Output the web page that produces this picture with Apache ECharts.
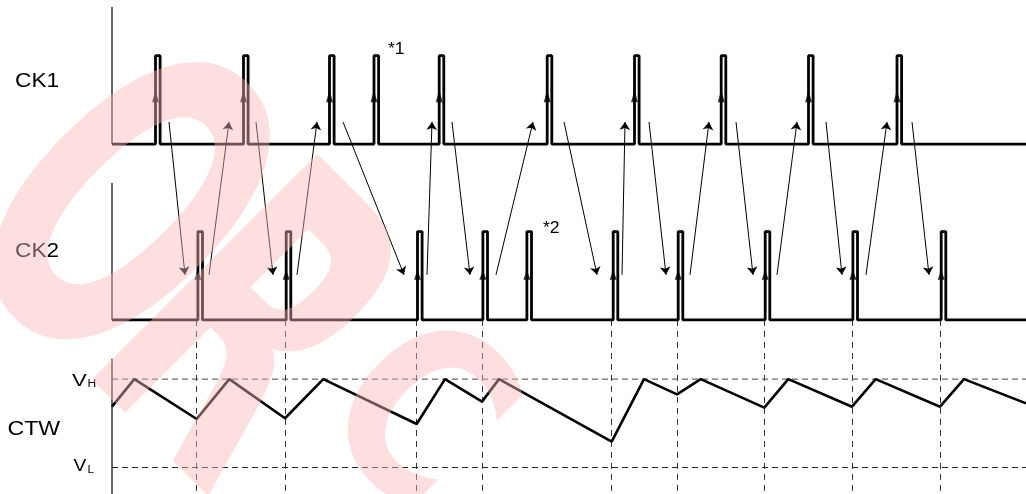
<!DOCTYPE html>
<html>
<head>
<meta charset="utf-8">
<script src="https://cdn.jsdelivr.net/npm/echarts@6/dist/echarts.min.js"></script>
<style>
html,body{margin:0;padding:0;background:#fff;}
#chart{width:1026px;height:494px;}
</style>
</head>
<body>
<div id="chart"></div>
<script>
// ---------- data (time units along the common time axis, levels in signal units) ----------
const timeEnd = 914;
const ck1Rise = [43.5, 131.5, 217.5, 262, 327.2, 435.2, 522.5, 609.2, 696.5, 785];
const ck2Rise = [85.9, 174.2, 305.5, 370.9, 414.9, 501.2, 566.2, 653.2, 740.9, 829.2];
const pulseWidth = 4.6;
const ctwTime  = [0, 22.3, 84.7, 117.3, 173, 211.3, 304.7, 333, 370, 387, 499.7, 532, 565, 588.7, 652.3, 676.3, 740, 763.7, 828, 852, 914];
const ctwLevel = [0.688, 1, 0.549, 1, 0.557, 1, 0.492, 1, 0.745, 1, 0.292, 1, 0.828, 1, 0.677, 1, 0.688, 1, 0.688, 1, 0.726];
const resetTimes = [84.7, 173, 304.7, 370, 499.7, 565, 652.3, 740, 828];
const ck1ToCk2From = [57, 144, 231, 340, 452, 537, 624, 714, 800];
const ck1ToCk2To   = [73, 161, 292, 358, 485, 554, 641, 730, 817];
const ck2ToCk1From = [97, 185, 315, 384, 510, 578, 665, 754];
const ck2ToCk1To   = [117, 205, 320, 421, 513, 597, 685, 775];
const arrowLevelCk1 = 0.25;   // level on CK1 lane where trigger arrows start / end
const arrowLevelCk2 = 0.51;   // level on CK2 lane where trigger arrows start / end
const edgeArrowLevelCk1 = 0.54;
const edgeArrowLevelCk2 = 0.51;
const VH = 1, VL = 0;

// ---------- layout ----------
const lane = {ck1: 3.66, ck2: 1.67, ctw: 0};
const axisTop = {ck1: 1.55, ck2: 1.55, ctw: 1.23};
const FONT = '"Liberation Sans", Arial, Helvetica, sans-serif';

function pulseTrain(rises, base) {
  const d = [[0, base]];
  rises.forEach(r => {
    d.push([r, base], [r, base + 1], [r + pulseWidth, base + 1], [r + pulseWidth, base]);
  });
  d.push([timeEnd, base]);
  return d;
}

const ctwData = ctwTime.map((t, i) => [t, lane.ctw + ctwLevel[i]]);

const trigLines = [];
ck1ToCk2From.forEach((t, i) => trigLines.push({coords: [[t, lane.ck1 + arrowLevelCk1], [ck1ToCk2To[i], lane.ck2 + arrowLevelCk2]]}));
ck2ToCk1From.forEach((t, i) => trigLines.push({coords: [[t, lane.ck2 + arrowLevelCk2], [ck2ToCk1To[i], lane.ck1 + arrowLevelCk1]]}));

const resetLines = resetTimes.map(t => ({coords: [[t, lane.ck2], [t, -0.3]]}));

const blackLine = (w) => ({color: '#000', width: w});

const series = [
  {type: 'line', data: [[0, lane.ck1], [0, lane.ck1 + axisTop.ck1]], symbol: 'none', lineStyle: blackLine(1.2), clip: false, silent: true},
  {type: 'line', data: [[0, lane.ck2], [0, lane.ck2 + axisTop.ck2]], symbol: 'none', lineStyle: blackLine(1.2), clip: false, silent: true},
  {type: 'line', data: [[0, -0.3], [0, lane.ctw + axisTop.ctw]], symbol: 'none', lineStyle: blackLine(1.2), clip: false, silent: true},
  {type: 'line', data: [[0, lane.ctw + VH], [timeEnd, lane.ctw + VH]], symbol: 'none', lineStyle: {color: '#444', width: 1, type: [6, 4]}, clip: false},
  {type: 'line', data: [[0, lane.ctw + VL], [timeEnd, lane.ctw + VL]], symbol: 'none', lineStyle: {color: '#222', width: 1, type: [6, 4]}, clip: false},
  {type: 'lines', coordinateSystem: 'cartesian2d', data: resetLines, symbol: 'none', lineStyle: {color: '#333', width: 1, type: [6, 5], opacity: 1}},
  {type: 'line', data: pulseTrain(ck1Rise, lane.ck1), symbol: 'none', lineStyle: blackLine(2.8), clip: false},
  {type: 'line', data: pulseTrain(ck2Rise, lane.ck2), symbol: 'none', lineStyle: blackLine(2.8), clip: false},
  {type: 'line', data: ctwData, symbol: 'none', lineStyle: blackLine(2.6), clip: false},
  {type: 'lines', coordinateSystem: 'cartesian2d', data: trigLines, symbol: ['none', 'arrow'], symbolSize: 8,
   lineStyle: {color: '#000', width: 1, opacity: 1}},
  {type: 'scatter', data: ck1Rise.map(r => [r, lane.ck1 + edgeArrowLevelCk1]), symbol: 'triangle', symbolSize: [7, 12],
   itemStyle: {color: '#000'}, clip: false},
  {type: 'scatter', data: ck2Rise.map(r => [r, lane.ck2 + edgeArrowLevelCk2]), symbol: 'triangle', symbolSize: [7, 10],
   itemStyle: {color: '#000'}, clip: false}
];

function txt(text, x, y, size, sx) {
  return {type: 'text', x: x, y: y, scaleX: sx || 1, silent: true, z: 100,
    style: {text: text, font: size + 'px ' + FONT, fill: '#000', textAlign: 'left', textVerticalAlign: 'middle'}};
}
function mark(ch, x, y, size, sy) {
  return {type: 'text', x: x, y: y, rotation: -Math.PI / 4, scaleY: sy, silent: true, z: 200,
    style: {text: ch, font: 'bold ' + size + 'px "DejaVu Sans", sans-serif', fill: 'rgba(250,182,182,0.44)',
            textAlign: 'center', textVerticalAlign: 'middle'}};
}

const graphics = [
  txt('CK1', 15, 81, 21, 1.08),
  txt('CK2', 15, 251.5, 21, 1.08),
  txt('CTW', 7.5, 429.5, 21, 1.1),
  txt('V', 72, 381, 17, 1.3),
  txt('H', 87.5, 384.5, 10, 1.2),
  txt('V', 73.5, 467, 16, 1.2),
  txt('L', 87.5, 470, 10, 1.2),
  txt('*1', 388, 50, 16, 1.1),
  txt('*2', 543, 229, 16, 1.1),
  // watermark
  mark('O', 99, 233, 250, 1.75),
  mark('R', 224, 351, 250, 1.75),
  mark('C', 407, 425, 200, 1.2)
];

const chart = echarts.init(document.getElementById('chart'), null, {renderer: 'canvas'});
chart.setOption({
  animation: false,
  backgroundColor: '#fff',
  grid: {left: 112, right: 0, top: 0, bottom: 0, containLabel: false},
  xAxis: {type: 'value', min: 0, max: timeEnd, show: false},
  yAxis: {type: 'value', min: -0.3, max: 5.29, show: false},
  series: series,
  graphic: graphics
});
</script>
</body>
</html>
